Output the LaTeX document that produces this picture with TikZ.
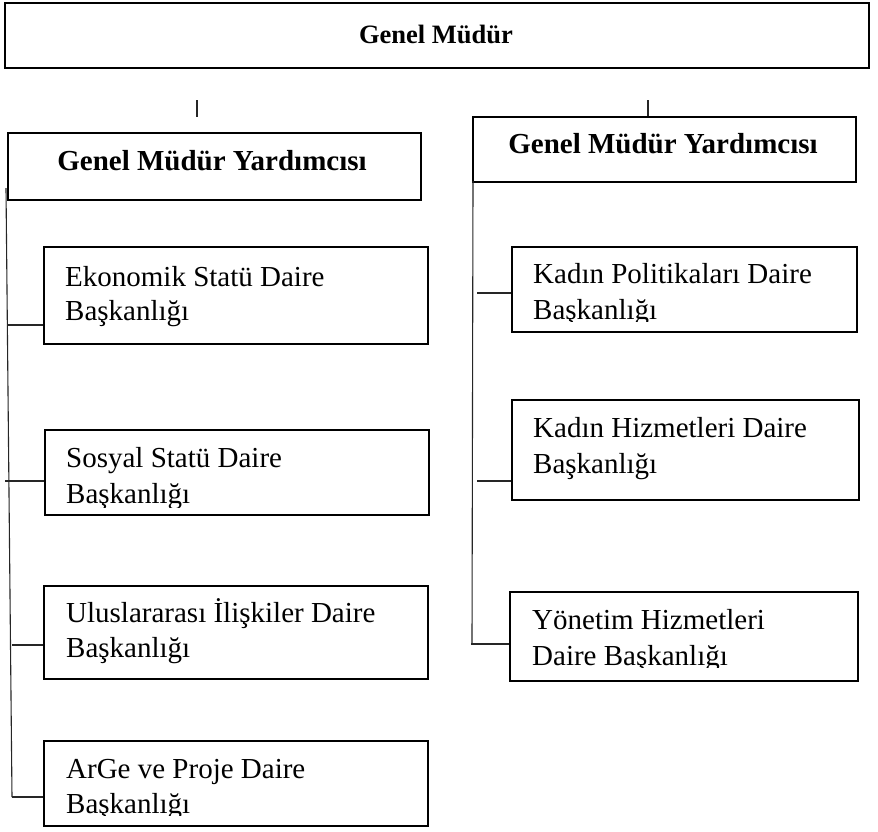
\documentclass[tikz,border=0pt]{standalone}
\usepackage{fontspec}
\setmainfont{Liberation Serif}
\begin{document}
\begin{tikzpicture}[x=1pt,y=-1pt,
  box/.style={draw=black,line width=2.3pt,inner sep=0pt,anchor=north west},
  link/.style={draw=black!85,line width=1.1pt},
  lbl/.style={anchor=base west,inner sep=0pt,font=\fontsize{29}{35}\selectfont},
  head/.style={anchor=base,inner sep=0pt,font=\fontsize{29}{35}\selectfont\bfseries}]
\useasboundingbox (0,0) rectangle (878,831);
% boxes
\node[box,minimum width=864pt,minimum height=65pt] (gm) at (4,2) {};
\node[box,minimum width=413pt,minimum height=67pt] (gmy1) at (7,132) {};
\node[box,minimum width=383pt,minimum height=65pt] (gmy2) at (472,116) {};
\node[box,minimum width=384pt,minimum height=97pt] (eko) at (43,246) {};
\node[box,minimum width=384pt,minimum height=85pt] (sos) at (44,429) {};
\node[box,minimum width=384pt,minimum height=93pt] (ulu) at (43,585) {};
\node[box,minimum width=384pt,minimum height=85pt] (arg) at (43,740) {};
\node[box,minimum width=345pt,minimum height=85pt] (kpo) at (511,246) {};
\node[box,minimum width=347pt,minimum height=100pt] (khi) at (511,399) {};
\node[box,minimum width=348pt,minimum height=89pt] (yon) at (509,591) {};
% headings
\node[head,font=\fontsize{26.5}{32}\selectfont\bfseries] (tgm) at (436,43) {Genel Müdür};
\node[head] (tgmy1) at (212,170) {Genel Müdür Yardımcısı};
\node[head] (tgmy2) at (663,153) {Genel Müdür Yardımcısı};
% texts
\node[lbl] (teko1) at (65,286) {Ekonomik Statü Daire};
\node[lbl] (teko2) at (65,320) {Başkanlığı};
\begin{scope}
  \clip (sos.north west) rectangle (sos.east |- 0,507);
  \node[lbl] (tsos1) at (66,467) {Sosyal Statü Daire};
  \node[lbl] (tsos2) at (66,503) {Başkanlığı};
\end{scope}
\node[lbl] (tulu1) at (66,622) {Uluslararası İlişkiler Daire};
\node[lbl] (tulu2) at (66,657) {Başkanlığı};
\begin{scope}
  \clip (arg.north west) rectangle (arg.east |- 0,815);
  \node[lbl] (targ1) at (66,778) {ArGe ve Proje Daire};
  \node[lbl] (targ2) at (66,813) {Başkanlığı};
\end{scope}
\begin{scope}
  \clip (kpo.north west) rectangle (kpo.east |- 0,321);
  \node[lbl] (tkpo1) at (533,283) {Kadın Politikaları Daire};
  \node[lbl] (tkpo2) at (533,319) {Başkanlığı};
\end{scope}
\node[lbl] (tkhi1) at (533,437) {Kadın Hizmetleri Daire};
\node[lbl] (tkhi2) at (533,473) {Başkanlığı};
\begin{scope}
  \clip (yon.north west) rectangle (yon.east |- 0,667);
  \node[lbl] (tyon1) at (532,629) {Yönetim Hizmetleri};
  \node[lbl] (tyon2) at (532,665) {Daire Başkanlığı};
\end{scope}
% ticks
\coordinate (t1a) at (197,100);
\coordinate (t1b) at (197,117);
\coordinate (t2a) at (648,100);
\draw[link] (t1a) -- (t1b);
\draw[link] (t2a) -- (t2a |- gmy2.north);
% left trunk
\coordinate (lt) at (6,188);
\coordinate (lb) at (12,797);
\draw[link] (lt) -- (lb);
\coordinate (ce) at (7,325);
\coordinate (cs) at (5,481);
\coordinate (cu) at (12,645);
\coordinate (ca) at (12,797);
\draw[link] (ce) -- (ce -| eko.west);
\draw[link] (cs) -- (cs -| sos.west);
\draw[link] (cu) -- (cu -| ulu.west);
\draw[link] (ca) -- (ca -| arg.west);
% right trunk
\coordinate (rt) at (473,181);
\coordinate (rb) at (472,644);
\draw[link] (rt) -- (rb);
\coordinate (ck) at (477,293);
\coordinate (ch) at (477,481);
\coordinate (cy) at (471,644);
\draw[link] (ck) -- (ck -| kpo.west);
\draw[link] (ch) -- (ch -| khi.west);
\draw[link] (cy) -- (cy -| yon.west);
\end{tikzpicture}
\end{document}
